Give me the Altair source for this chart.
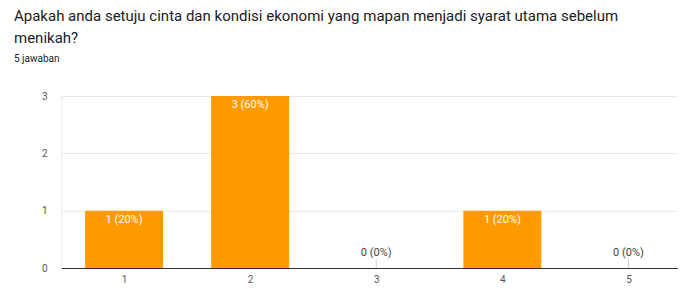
import altair as alt
import pandas as pd

categories = [1, 2, 3, 4, 5]
counts = [1, 3, 0, 1, 0]
total = 5
title_lines = [
    "Apakah anda setuju cinta dan kondisi ekonomi yang mapan menjadi syarat utama sebelum",
    "menikah?",
]
subtitle = "5 jawaban"
y_ticks = [0, 0.5, 1, 1.5, 2, 2.5, 3]

labels = [f"{c} ({round(100 * c / total)}%)" for c in counts]
df = pd.DataFrame({"cat": categories, "count": counts, "label": labels})

FONT = "Roboto"
HALF = 0.309

x_scale = alt.Scale(domain=[0.5, 5.393], nice=False, zero=False)
x_axis = alt.Axis(
    title=None, values=categories, format="d", labelAngle=0, ticks=False, tickSize=0,
    domain=True, domainColor="#333333", labelColor="#555555", labelFontSize=10,
    labelPadding=6, grid=False, labelFont=FONT,
)
x = alt.X("cat:Q", scale=x_scale, axis=x_axis)
y = alt.Y(
    "count:Q",
    scale=alt.Scale(domain=[0, 3], nice=False),
    axis=alt.Axis(
        title=None, values=y_ticks, format="d", domain=True, domainColor="#eeeeee",
        ticks=False, tickSize=0,
        labelExpr="datum.value % 1 == 0 ? datum.label : ''",
        gridColor={"condition": {"test": "datum.value % 1 != 0", "value": "#f5f5f5"}, "value": "#e8e8e8"},
        labelColor="#555555", labelFontSize=10, labelPadding=14, minExtent=47, labelFont=FONT,
    ),
)

base = alt.Chart(df)
bars = base.transform_calculate(
    lo=f"datum.cat - {HALF}", hi=f"datum.cat + {HALF}"
).mark_bar(color="#ff9900").encode(
    x=alt.X("lo:Q", scale=x_scale, axis=x_axis), x2="hi:Q", y=y, y2=alt.datum(0)
)
inner = base.transform_filter("datum.count > 0").mark_text(
    baseline="top", dy=3, color="white", fontSize=11, font=FONT
).encode(x=x, y=y, text="label:N")
zero_txt = base.transform_filter("datum.count == 0").mark_text(
    baseline="bottom", dy=-10.5, color="#444444", fontSize=11, font=FONT
).encode(x=x, y=y, text="label:N")
zero_tick = base.transform_filter("datum.count == 0").mark_tick(
    orient="vertical", size=9, thickness=1, color="#bbbbbb"
).encode(x=x, y=y, yOffset=alt.value(-4.5))

chart = alt.layer(bars, inner, zero_tick, zero_txt).properties(
    width=617,
    height=172,
    padding={"left": 6, "top": 0, "right": 0, "bottom": 0},
    title=alt.TitleParams(
        text=title_lines, subtitle=subtitle, anchor="start", frame="bounds",
        font=FONT, fontSize=15, fontWeight="normal", color="#202124", lineHeight=22.5,
        subtitleFont=FONT, subtitleFontSize=10, subtitleColor="#202124", subtitlePadding=8,
        offset=27,
    ),
).configure_view(stroke=None)

chart.save("out.html", embed_options={"renderer": "svg", "actions": False})
